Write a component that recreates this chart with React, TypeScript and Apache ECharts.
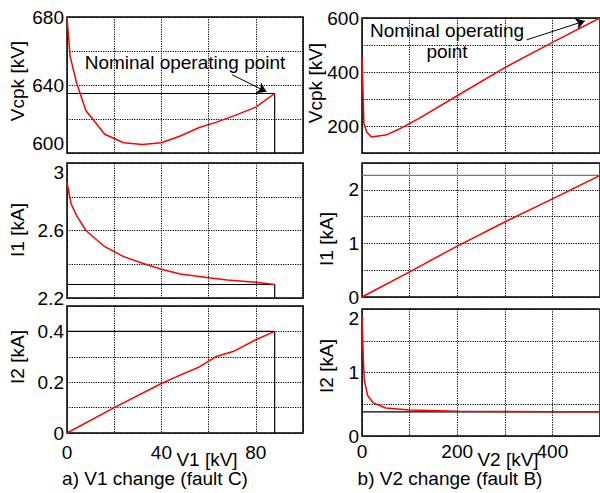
import React, { useEffect, useRef } from "react";
import * as echarts from "echarts";

// ---- data ----
// a) V1 change (fault C)
const v1ForVcpk = [0, 1.3, 4.1, 8, 16, 24, 32, 40, 48, 56, 63, 71, 80, 88];
const vcpkVsV1 = [680, 657, 641, 625, 611, 606, 605, 606, 610, 615, 618, 622, 627, 635];
const v1ForI1 = [0, 1.7, 4, 8, 16, 24, 32, 40, 48, 60, 68, 80, 88];
const i1VsV1 = [2.886, 2.76, 2.69, 2.6, 2.504, 2.445, 2.406, 2.37, 2.342, 2.32, 2.307, 2.293, 2.28];
const v1ForI2 = [0, 20, 40, 48, 56, 63, 71, 80, 88];
const i2VsV1 = [0, 0.1, 0.195, 0.228, 0.26, 0.3, 0.323, 0.367, 0.4];
const nominalV1 = 88;
const nominalVcpkA = 635;
const nominalI1A = 2.28;
const nominalI2A = 0.4;

// b) V2 change (fault B)
const v2ForVcpk = [0, 4, 10, 20, 52, 80, 120, 200, 300, 400, 500];
const vcpkVsV2 = [455, 208, 178, 159, 168, 190, 228, 312, 416, 510, 600];
const v2ForI1 = [0, 100, 200, 300, 400, 500];
const i1VsV2 = [0, 0.47, 0.95, 1.4, 1.83, 2.27];
const v2ForI2 = [0, 3, 5, 12, 24, 50, 100, 200, 300, 400, 500];
const i2VsV2 = [1.9, 1.16, 0.87, 0.635, 0.52, 0.44, 0.41, 0.39, 0.385, 0.383, 0.383];
const nominalI1B = 2.27;
const nominalI2B = 0.38;

// axis ranges / tick labels
const leftXLabels = [0, 40, 80];
const rightXLabels = [0, 200, 400];
const yLabels = [
  [600, 640, 680],
  [2.2, 2.6, 3],
  [0, 0.2, 0.4],
  [200, 400, 600],
  [0, 1, 2],
  [0, 1, 2],
];
const yRanges = [
  [600, 680, 20],
  [2.2, 3, 0.2],
  [0, 0.5, 0.1],
  [100, 600, 100],
  [0, 2.5, 0.5],
  [0, 2, 0.5],
];
const yNames = ["Vcpk [kV]", "I1 [kA]", "I2 [kA]", "Vcpk [kV]", "I1 [kA]", "I2 [kA]"];

const zip = (xs: number[], ys: number[]) => xs.map((x, i) => [x, ys[i]]);
const FONT = "Liberation Sans, Arial, Helvetica, sans-serif";
const FS = 19;

const labelFmt = (labels: number[]) => (v: number) =>
  labels.some((l) => Math.abs(l - v) < 1e-6) ? String(Math.round(v * 1000) / 1000) : "";

export default function App() {
  const ref = useRef<HTMLDivElement>(null);
  useEffect(() => {
    if (!ref.current) return;
    const chart = echarts.init(ref.current, null, { renderer: "svg" });

    const grids = [
      { left: 67, top: 17, width: 236, height: 136 },
      { left: 67, top: 163, width: 236, height: 135 },
      { left: 67, top: 306, width: 236, height: 127 },
      { left: 362, top: 18, width: 239, height: 135 },
      { left: 362, top: 163, width: 239, height: 134 },
      { left: 362, top: 309, width: 239, height: 127 },
    ].map((g) => ({
      ...g,
      show: true,
      borderColor: "#000",
      borderWidth: 1.5,
      backgroundColor: "transparent",
      containLabel: false,
    }));

    const split = {
      show: true,
      lineStyle: { color: "#000", width: 1, type: [1.2, 1.2] as any },
    };

    const xAxis = grids.map((_, i) => {
      const left = i < 3;
      const bottom = i === 2 || i === 5;
      return {
        type: "value",
        gridIndex: i,
        min: 0,
        max: left ? 100 : 500,
        interval: left ? 20 : 100,
        axisLine: { show: false },
        axisTick: { show: false },
        splitLine: split,
        axisLabel: {
          show: bottom,
          showMaxLabel: false,
          margin: left ? 10 : 6,
          color: "#000",
          fontFamily: FONT,
          fontSize: FS,
          formatter: labelFmt(left ? leftXLabels : rightXLabels),
        },
      };
    });

    const yAxis = grids.map((_, i) => ({
      type: "value",
      gridIndex: i,
      min: yRanges[i][0],
      max: yRanges[i][1],
      interval: yRanges[i][2],
      axisLine: { show: false },
      axisTick: { show: false },
      splitLine: split,
      axisLabel: {
        margin: 3,
        color: "#000",
        fontFamily: FONT,
        fontSize: FS,
        formatter: labelFmt(yLabels[i]),
        ...(i === 1 || i === 5 ? { verticalAlignMaxLabel: "top" } : {}),
        ...(i === 0 ? { verticalAlignMinLabel: "bottom" } : {}),
      },
    }));

    const red = (xi: number, data: number[][], extra: any = {}) => ({
      type: "line",
      xAxisIndex: xi,
      yAxisIndex: xi,
      data,
      showSymbol: false,
      symbol: "none",
      lineStyle: { color: "#ff0000", width: 1.5 },
      z: 5,
      ...extra,
    });
    const ref_ = (xi: number, data: number[][], color = "#000") => ({
      type: "line",
      xAxisIndex: xi,
      yAxisIndex: xi,
      data,
      symbol: "none",
      lineStyle: { color, width: 1.2 },
      z: 3,
    });
    const arrow = (from: number[], to: number[]) => ({
      silent: true,
      symbol: ["none", "arrow"],
      symbolSize: 9,
      label: { show: false },
      lineStyle: { color: "#000", width: 1, type: "solid" },
      data: [[{ coord: from }, { coord: to }]],
    });

    const series = [
      ref_(0, [[0, nominalVcpkA], [nominalV1, nominalVcpkA], [nominalV1, yRanges[0][0]]]),
      ref_(1, [[0, nominalI1A], [nominalV1, nominalI1A], [nominalV1, yRanges[1][0]]]),
      ref_(2, [[0, nominalI2A], [nominalV1, nominalI2A], [nominalV1, yRanges[2][0]]]),
      ref_(4, [[0, nominalI1B], [500, nominalI1B]], "#777"),
      ref_(5, [[0, nominalI2B], [500, nominalI2B]]),
      red(0, zip(v1ForVcpk, vcpkVsV1), { markLine: arrow([70, 646], [84.5, 636]) }),
      red(1, zip(v1ForI1, i1VsV1)),
      red(2, zip(v1ForI2, i2VsV1)),
      red(3, zip(v2ForVcpk, vcpkVsV2), { markLine: arrow([346, 519], [468, 589]) }),
      red(4, zip(v2ForI1, i1VsV2)),
      red(5, zip(v2ForI2, i2VsV2)),
    ];

    const txt = (text: string, x: number, y: number, rot = 0, extra: any = {}) => ({
      type: "text",
      x,
      y,
      rotation: rot,
      z: 100,
      style: {
        text,
        fill: "#000",
        font: `${FS}px ${FONT}`,
        align: "center",
        verticalAlign: "middle",
        ...extra,
      },
    });
    const yNamePos = [
      [17, 81],
      [17, 230],
      [17, 357],
      [315, 83],
      [326, 239],
      [326, 366],
    ];
    const graphic = [
      ...yNames.map((n, i) => txt(n, yNamePos[i][0], yNamePos[i][1], Math.PI / 2)),
      txt("Nominal operating point", 185, 62),
      txt("Nominal operating\npoint", 447, 41, 0, { lineHeight: 21 }),
      txt("V1 [kV]", 207, 459),
      txt("V2 [kV]", 508, 459),
      txt("a) V1 change (fault C)", 155, 478),
      txt("b) V2 change (fault B)", 450, 478),
    ];

    chart.setOption({
      animation: false,
      backgroundColor: "#fff",
      textStyle: { fontFamily: FONT },
      grid: grids,
      xAxis,
      yAxis,
      series,
      graphic,
    });
    return () => chart.dispose();
  }, []);
  return (
    <div
      ref={ref}
      style={{ position: "fixed", left: 0, top: 0, width: 600, height: 493, background: "#fff" }}
    />
  );
}
